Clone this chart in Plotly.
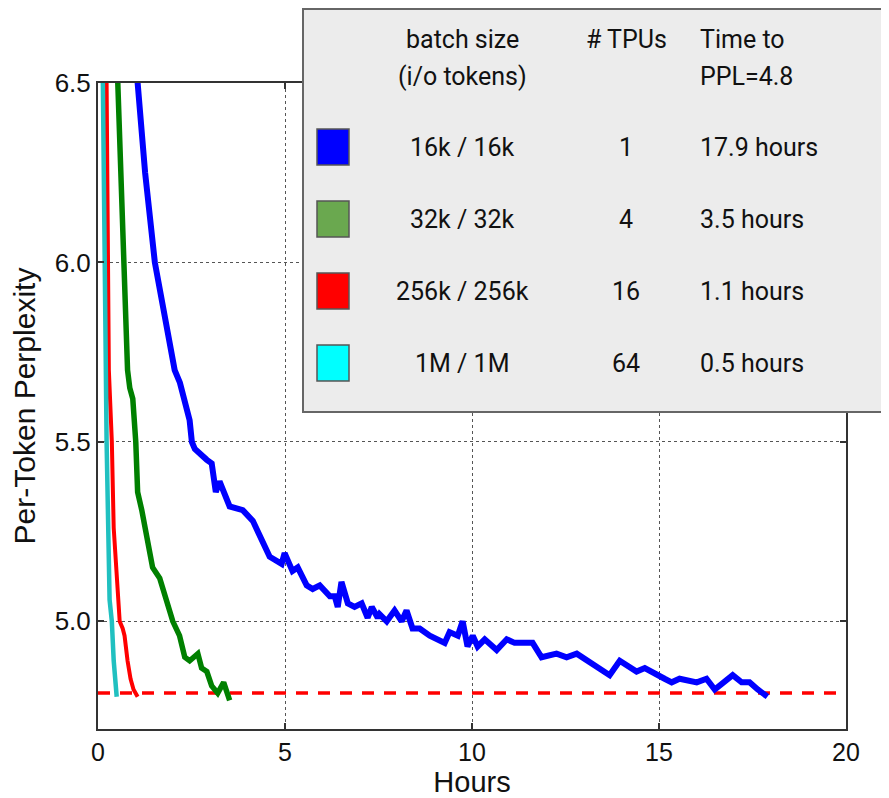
import plotly.graph_objects as go

# ---- data ----
blue_x = [0.98, 1.06, 1.26, 1.52, 2.05, 2.19, 2.45, 2.51, 2.59, 2.91, 3.04, 3.15, 3.25, 3.52, 3.87, 4.14, 4.38, 4.59,
          4.91, 4.99, 5.20, 5.34, 5.58, 5.74, 5.93, 6.20, 6.33, 6.41, 6.51, 6.68, 6.86, 7.05, 7.21, 7.32, 7.48,
          7.53, 7.72, 7.93, 8.12, 8.25, 8.41, 8.60, 8.87, 9.05, 9.27, 9.40, 9.62, 9.75, 9.88, 10.02, 10.15,
          10.34, 10.66, 10.93, 11.14, 11.62, 11.86, 12.26, 12.53, 12.80, 13.09, 13.41, 13.68, 13.95, 14.40,
          14.62, 14.94, 15.15, 15.34, 15.55, 16.01, 16.27, 16.49, 16.75, 16.97, 17.21, 17.42, 17.64, 17.90]
blue_y = [6.60, 6.50, 6.25, 6.00, 5.70, 5.665, 5.56, 5.50, 5.48, 5.45, 5.44, 5.36, 5.39, 5.32, 5.31, 5.28, 5.23, 5.18,
          5.16, 5.19, 5.14, 5.15, 5.10, 5.09, 5.10, 5.07, 5.07, 5.04, 5.11, 5.05, 5.04, 5.05, 5.01, 5.04, 5.01,
          5.02, 5.00, 5.03, 5.00, 5.03, 4.98, 4.98, 4.96, 4.95, 4.94, 4.97, 4.96, 5.00, 4.93, 4.96, 4.93,
          4.95, 4.92, 4.95, 4.94, 4.94, 4.90, 4.91, 4.90, 4.91, 4.89, 4.87, 4.85, 4.89, 4.86,
          4.87, 4.85, 4.84, 4.83, 4.84, 4.83, 4.84, 4.81, 4.83, 4.85, 4.83, 4.83, 4.81, 4.79]

green_x = [0.50, 0.53, 0.66, 0.79, 0.85, 0.93, 1.01, 1.06, 1.17, 1.33, 1.46, 1.65, 1.84, 2.00, 2.18, 2.32,
           2.45, 2.67, 2.77, 2.91, 3.04, 3.20, 3.36, 3.52]
green_y = [6.59, 6.50, 6.00, 5.70, 5.65, 5.62, 5.50, 5.36, 5.31, 5.21, 5.15, 5.12, 5.06, 5.00, 4.96, 4.90,
           4.89, 4.91, 4.87, 4.86, 4.82, 4.80, 4.83, 4.78]

red_x = [0.21, 0.23, 0.29, 0.37, 0.42, 0.50, 0.58, 0.66, 0.71, 0.79, 0.87, 0.95, 1.06]
red_y = [6.59, 6.50, 5.70, 5.50, 5.26, 5.12, 5.00, 4.98, 4.96, 4.89, 4.84, 4.81, 4.79]

cyan_x = [0.10, 0.13, 0.18, 0.23, 0.31, 0.37, 0.42, 0.50]
cyan_y = [6.59, 6.50, 6.00, 5.50, 5.06, 5.00, 4.89, 4.79]

target_ppl = 4.8
x_range = [0, 20]
y_range = [4.7, 6.5]
x_ticks = [0, 5, 10, 15, 20]
y_ticks = [5.0, 5.5, 6.0, 6.5]
y_tick_labels = ["5.0", "5.5", "6.0", "6.5"]

batch_sizes = ["16k / 16k", "32k / 32k", "256k / 256k", "1M / 1M"]
tpus = ["1", "4", "16", "64"]
times = ["17.9 hours", "3.5 hours", "1.1 hours", "0.5 hours"]
swatch_colors = ["#0000ff", "#6aa84f", "#ff0000", "#00ffff"]
header_batch = ["batch size", "(i/o tokens)"]
header_tpu = "# TPUs"
header_time = ["Time to", "PPL=4.8"]

# ---- figure ----
fig = go.Figure()
fig.add_trace(go.Scatter(x=x_range, y=[target_ppl, target_ppl], mode="lines",
                         line=dict(color="#ff0000", width=3.5, dash="12px,10px"), showlegend=False))
fig.add_trace(go.Scatter(x=blue_x, y=blue_y, mode="lines", line=dict(color="#0000ff", width=6), showlegend=False))
fig.add_trace(go.Scatter(x=green_x, y=green_y, mode="lines", line=dict(color="#008000", width=5.5), showlegend=False))
fig.add_trace(go.Scatter(x=red_x, y=red_y, mode="lines", line=dict(color="#ff0000", width=4), showlegend=False))
fig.add_trace(go.Scatter(x=cyan_x, y=cyan_y, mode="lines", line=dict(color="#20c0c0", width=4.5), showlegend=False))

axis_common = dict(showline=True, linecolor="#333333", linewidth=2, mirror="ticks", ticks="inside",
                   ticklen=6, tickwidth=1.5, tickcolor="#333333", showgrid=True, gridcolor="#555555",
                   griddash="dot", gridwidth=1, zeroline=False, automargin=False)

fig.update_xaxes(range=x_range, tickvals=x_ticks, ticktext=[str(v) for v in x_ticks],
                 tickfont=dict(family="Liberation Sans, Arial", size=25, color="#111111"),
                 title=dict(text="Hours", font=dict(family="Liberation Sans, Arial", size=29, color="#111111"),
                            standoff=6), **axis_common)
fig.update_yaxes(range=y_range, tickvals=y_ticks, ticktext=y_tick_labels,
                 tickfont=dict(family="Liberation Sans, Arial", size=26, color="#111111"),
                 title=dict(text="Per-Token Perplexity",
                            font=dict(family="Liberation Sans, Arial", size=30, color="#111111"), standoff=15),
                 **axis_common)

# page has an 8px body margin: figure coords = page coords - 8
OFF = 8.0
px0, px1 = 98.0 - OFF, 846.0 - OFF
py_top, py_bot = 83.0 - OFF, 729.0 - OFF
def pxx(v):
    return (v - OFF - px0) / (px1 - px0)
def pyy(v):
    return (py_bot - (v - OFF)) / (py_bot - py_top)

shapes = [dict(type="rect", xref="paper", yref="paper", x0=pxx(303), x1=pxx(900), y0=pyy(412), y1=pyy(9),
               fillcolor="#ececec", line=dict(color="#666666", width=2), layer="above")]
row_centers = [147, 219, 291, 363]
for c, yc in zip(swatch_colors, row_centers):
    shapes.append(dict(type="rect", xref="paper", yref="paper", x0=pxx(317), x1=pxx(349),
                       y0=pyy(yc + 18), y1=pyy(yc - 18), fillcolor=c,
                       line=dict(color="#555555", width=1.5), layer="above"))
fig.update_layout(shapes=shapes)

tfont = dict(family="Roboto, Open Sans, sans-serif", size=25, color="#111111")
ann = []
ann.append(dict(x=pxx(462), y=pyy(40), text=header_batch[0], xanchor="center", yanchor="middle"))
ann.append(dict(x=pxx(462), y=pyy(77), text=header_batch[1], xanchor="center", yanchor="middle"))
ann.append(dict(x=pxx(626), y=pyy(40), text=header_tpu, xanchor="center", yanchor="middle"))
ann.append(dict(x=pxx(698), y=pyy(40), text=header_time[0], xanchor="left", yanchor="middle"))
ann.append(dict(x=pxx(698), y=pyy(77), text=header_time[1], xanchor="left", yanchor="middle"))
for b, t, h, yc in zip(batch_sizes, tpus, times, row_centers):
    ann.append(dict(x=pxx(462), y=pyy(yc), text=b, xanchor="center", yanchor="middle"))
    ann.append(dict(x=pxx(626), y=pyy(yc), text=t, xanchor="center", yanchor="middle"))
    ann.append(dict(x=pxx(698), y=pyy(yc), text=h, xanchor="left", yanchor="middle"))
for a in ann:
    a.update(xref="paper", yref="paper", showarrow=False, font=tfont)
fig.update_layout(annotations=ann)

W, H = 881, 790
fig.update_layout(width=W, height=H,
                  margin=dict(l=int(px0), r=int(W - px1), t=int(py_top), b=int(H - py_bot)),
                  plot_bgcolor="white", paper_bgcolor="white", showlegend=False)

fig.write_html("out.html")
